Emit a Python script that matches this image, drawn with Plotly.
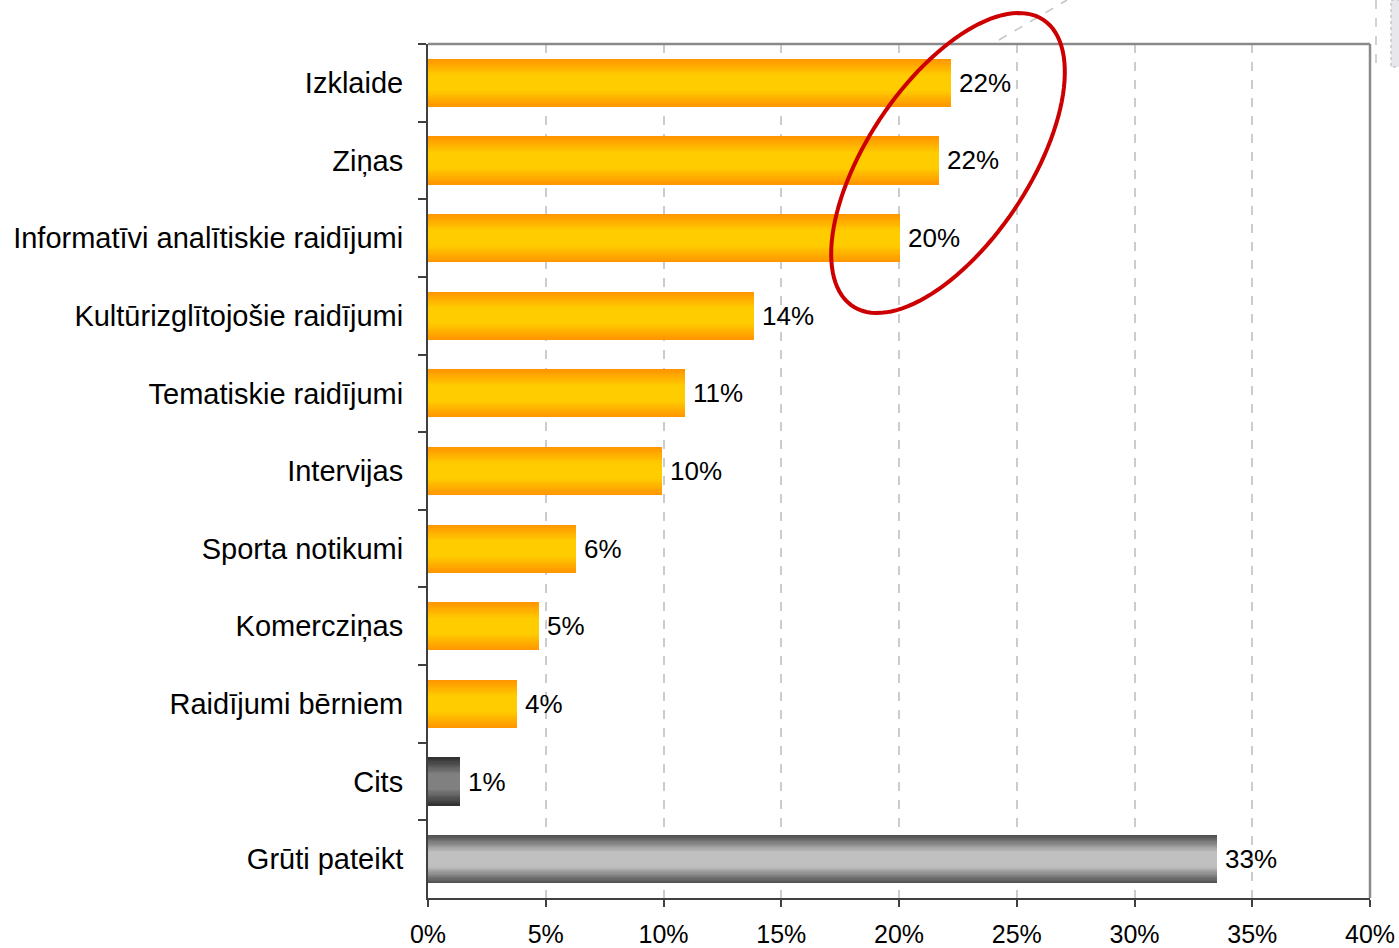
import numpy as np
import plotly.graph_objects as go

# ---------------- data ----------------
categories = [
    "Izklaide",
    "Ziņas",
    "Informatīvi analītiskie raidījumi",
    "Kultūrizglītojošie raidījumi",
    "Tematiskie raidījumi",
    "Intervijas",
    "Sporta notikumi",
    "Komercziņas",
    "Raidījumi bērniem",
    "Cits",
    "Grūti pateikt",
]
values = [22.2, 21.7, 20.05, 13.85, 10.9, 9.95, 6.3, 4.7, 3.8, 1.35, 33.5]
value_labels = ["22%", "22%", "20%", "14%", "11%", "10%", "6%", "5%", "4%", "1%", "33%"]
groups = ["main"] * 9 + ["other", "unsure"]

x_tick_vals = [0, 5, 10, 15, 20, 25, 30, 35, 40]
x_tick_text = ["0%", "5%", "10%", "15%", "20%", "25%", "30%", "35%", "40%"]

# ---------------- style ----------------
W, H = 1399, 948
ML, MR, MT, MB = 428, 29, 44, 50
PW, PH = W - ML - MR, H - MT - MB
FONT = "Liberation Sans, Arial, Helvetica, sans-serif"

gradients = {
    "main": ((255, 150, 0), (255, 204, 0)),
    "other": ((50, 50, 50), (128, 128, 128)),
    "unsure": ((80, 80, 80), (192, 192, 192)),
}
BAR_W = 0.62
N_LAYERS = 20


def mix(c1, c2, t):
    return "rgb(%d,%d,%d)" % tuple(round(a + (b - a) * t) for a, b in zip(c1, c2))


fig = go.Figure()
for k in range(N_LAYERS):
    frac = 1 - k / N_LAYERS          # relative half-width of this layer
    t = min(1.0, (1 - frac) * 1.5)   # edge -> centre
    colors = [mix(gradients[g][0], gradients[g][1], t) for g in groups]
    fig.add_trace(go.Bar(
        x=values, y=categories, orientation="h",
        width=BAR_W * frac,
        marker=dict(color=colors, line=dict(width=0)),
        showlegend=False, hoverinfo="skip" if k else "x+y",
    ))

annotations = [
    dict(x=v, y=c, xref="x", yref="y", text=t, showarrow=False,
         xanchor="left", yanchor="middle", xshift=6,
         font=dict(family=FONT, size=26, color="#000"))
    for v, c, t in zip(values, categories, value_labels)
]


def px2paper(px, py):
    return (px - ML) / PW, (H - MB - py) / PH


# red ellipse (pixel-space description)
cx, cy, ea, eb, phi = 948, 163, 172, 81, np.deg2rad(56.3)
th = np.linspace(0, 2 * np.pi, 120)
ex = cx + ea * np.cos(th) * np.cos(phi) - eb * np.sin(th) * np.sin(phi)
ey = cy - (ea * np.cos(th) * np.sin(phi) + eb * np.sin(th) * np.cos(phi))
pts = [px2paper(a, b) for a, b in zip(ex, ey)]
path = "M " + " L ".join("%.5f,%.5f" % p for p in pts) + " Z"

shapes = []
# top and right frame (grey)
shapes.append(dict(type="line", xref="paper", yref="paper", x0=0, x1=1, y0=1, y1=1,
                   line=dict(color="#8a8a8a", width=2.5)))
shapes.append(dict(type="line", xref="paper", yref="paper", x0=1, x1=1, y0=0, y1=1,
                   line=dict(color="#8a8a8a", width=2.5)))
# decorative dashed lines top-right
a0 = px2paper(999, 40); a1 = px2paper(1067, 0)
shapes.append(dict(type="line", xref="paper", yref="paper", x0=a0[0], y0=a0[1], x1=a1[0], y1=a1[1],
                   line=dict(color="#c4c4c4", width=1.5, dash="dash")))
b0 = px2paper(1376, 0); b1 = px2paper(1376, 66)
shapes.append(dict(type="line", xref="paper", yref="paper", x0=b0[0], y0=b0[1], x1=b1[0], y1=b1[1],
                   line=dict(color="#c4c4c4", width=1.5, dash="dash")))
r0 = px2paper(1391, 0); r1 = px2paper(1402, 67)
shapes.append(dict(type="rect", xref="paper", yref="paper", x0=r0[0], y0=r0[1], x1=r1[0], y1=r1[1],
                   fillcolor="#e8e8ec", line=dict(color="#c8c8c8", width=1.5, dash="dot")))
# ellipse
shapes.append(dict(type="path", xref="paper", yref="paper", path=path,
                   line=dict(color="#cc0000", width=4)))

fig.update_layout(
    width=W, height=H,
    margin=dict(l=ML, r=MR, t=MT, b=MB, pad=0, autoexpand=False),
    paper_bgcolor="white", plot_bgcolor="white",
    barmode="overlay",
    bargap=0,
    showlegend=False,
    annotations=annotations,
    shapes=shapes,
    font=dict(family=FONT, color="#000"),
)
fig.update_xaxes(
    range=[0, 40], tickvals=x_tick_vals, ticktext=x_tick_text,
    automargin=False,
    showgrid=True, gridcolor="#cccccc", gridwidth=1.5, griddash="dash",
    zeroline=False, showline=True, linecolor="#404040", linewidth=2,
    ticks="outside", ticklen=7, tickwidth=1.5, tickcolor="#404040",
    tickfont=dict(family=FONT, size=25, color="#000"),
    ticklabelstandoff=6,
)
fig.update_yaxes(
    type="category", categoryorder="array", categoryarray=categories,
    autorange="reversed", automargin=False,
    showgrid=False, zeroline=False, showline=True, linecolor="#404040", linewidth=2,
    ticks="outside", tickson="boundaries", ticklen=8, tickwidth=1.5, tickcolor="#404040",
    tickfont=dict(family=FONT, size=29, color="#000"),
    ticklabelstandoff=17,
)

fig.write_html("out.html", config={"displayModeBar": False},
               post_script="document.body.style.margin='0';")
